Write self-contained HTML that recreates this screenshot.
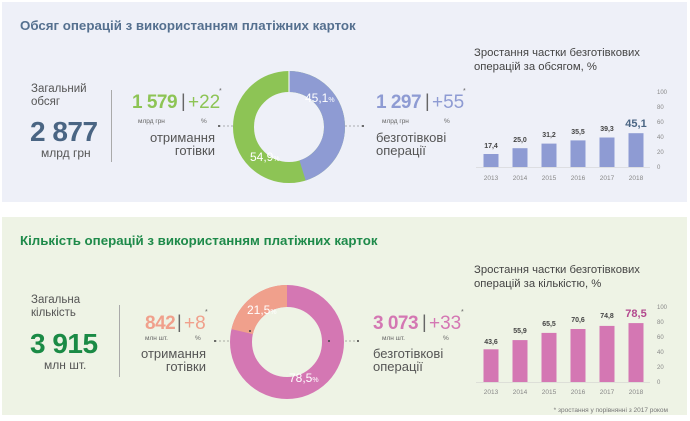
<!DOCTYPE html>
<html><head><meta charset="utf-8"><style>
body{margin:0;background:#fff;}
svg{display:block;font-family:"Liberation Sans",sans-serif;}
</style></head><body>
<svg width="690" height="421" viewBox="0 0 690 421">
<rect x="2" y="2" width="685" height="200" fill="#eef0f8"/>
<rect x="2" y="217" width="685" height="198" fill="#eef3e5"/>
<!-- TOP -->
<text x="20" y="30" font-size="13.3" fill="#55708f" font-weight="bold">Обсяг операцій з використанням платіжних карток</text>
<text x="31" y="92" font-size="11.5" fill="#555">Загальний</text>
<text x="31" y="105" font-size="11.5" fill="#555">обсяг</text>
<text x="30" y="141" font-size="28" font-weight="bold" fill="#4a6583" letter-spacing="-0.5">2 877</text>
<text x="41" y="157" font-size="12" fill="#555">млрд грн</text>
<line x1="111.5" y1="90" x2="111.5" y2="162" stroke="#aaa" stroke-width="1"/>
<text x="132" y="108" font-size="19" fill="#8dc455" font-weight="bold" letter-spacing="-0.5">1 579</text>
<text x="181" y="107" font-size="18" fill="#666">|</text>
<text x="188" y="108" font-size="19" fill="#8dc455">+22</text>
<text x="219" y="93" font-size="7" fill="#666">*</text>
<text x="138" y="123" font-size="6.5" fill="#666">млрд грн</text>
<text x="201" y="123" font-size="6.5" fill="#666">%</text>
<text x="215" y="142" font-size="13" fill="#555" text-anchor="end">отримання</text>
<text x="215" y="155" font-size="13" fill="#555" text-anchor="end">готівки</text>
<line x1="219" y1="126" x2="249" y2="126" stroke="#666" stroke-width="0.6" stroke-dasharray="2,2"/>
<circle cx="219" cy="126" r="1" fill="#444"/><circle cx="249" cy="126" r="1" fill="#444"/>
<line x1="333" y1="126" x2="363" y2="126" stroke="#666" stroke-width="0.6" stroke-dasharray="2,2"/>
<circle cx="333" cy="126" r="1" fill="#444"/><circle cx="363" cy="126" r="1" fill="#444"/>
<circle cx="289" cy="127" r="45.5" fill="none" stroke="#8dc455" stroke-width="21"/>
<circle cx="289" cy="127" r="45.5" fill="none" stroke="#8e9bd3" stroke-width="21" stroke-dasharray="128.9 300" transform="rotate(-90 289 127)"/>
<line x1="289" y1="71" x2="289" y2="92" stroke="#fff" stroke-width="1"/>
<text x="305" y="102" font-size="12" fill="#fff">45,1<tspan font-size="7">%</tspan></text>
<text x="250" y="161" font-size="12" fill="#fff">54,9<tspan font-size="7">%</tspan></text>
<text x="376" y="108" font-size="19" fill="#8e9bd3" font-weight="bold" letter-spacing="-0.5">1 297</text>
<text x="425" y="107" font-size="18" fill="#666">|</text>
<text x="432" y="108" font-size="19" fill="#8e9bd3">+55</text>
<text x="463" y="93" font-size="7" fill="#666">*</text>
<text x="382" y="123" font-size="6.5" fill="#666">млрд грн</text>
<text x="444" y="123" font-size="6.5" fill="#666">%</text>
<text x="376" y="142" font-size="13" fill="#555">безготівкові</text>
<text x="376" y="155" font-size="13" fill="#555">операції</text>
<text x="474" y="56" font-size="11.3" fill="#444">Зростання частки безготівкових</text>
<text x="474" y="70" font-size="11.3" fill="#444">операцій за обсягом, %</text>
<g font-size="6" fill="#888">
<text x="657" y="94">100</text><text x="657" y="109">80</text><text x="657" y="124">60</text><text x="657" y="139">40</text><text x="657" y="154">20</text><text x="657" y="169">0</text>
</g>
<line x1="476" y1="167.5" x2="650" y2="167.5" stroke="#ccc" stroke-width="0.6"/>
<g fill="#8e9bd3">
<rect x="483.5" y="154" width="15" height="13"/>
<rect x="512.5" y="148.2" width="15" height="18.8"/>
<rect x="541.5" y="143.6" width="15" height="23.4"/>
<rect x="570.5" y="140.4" width="15" height="26.6"/>
<rect x="599.5" y="137.5" width="15" height="29.5"/>
<rect x="628.5" y="133.2" width="15" height="33.8"/>
</g>
<g font-size="7" fill="#444" text-anchor="middle" font-weight="bold">
<text x="491" y="148">17,4</text><text x="520" y="142">25,0</text><text x="549" y="137">31,2</text><text x="578" y="134">35,5</text><text x="607" y="131">39,3</text>
<text x="636" y="127" font-size="11" fill="#4a6583">45,1</text>
</g>
<g font-size="6.5" fill="#888" text-anchor="middle">
<text x="491" y="180">2013</text><text x="520" y="180">2014</text><text x="549" y="180">2015</text><text x="578" y="180">2016</text><text x="607" y="180">2017</text><text x="636" y="180">2018</text>
</g>
<!-- BOTTOM -->
<text x="20" y="245" font-size="13.3" fill="#1e8a4a" font-weight="bold">Кількість операцій з використанням платіжних карток</text>
<text x="31" y="303" font-size="11.5" fill="#555">Загальна</text>
<text x="31" y="316" font-size="11.5" fill="#555">кількість</text>
<text x="30" y="353" font-size="28" font-weight="bold" fill="#1a8a45" letter-spacing="-0.5">3 915</text>
<text x="44" y="369" font-size="12" fill="#555">млн шт.</text>
<line x1="119.5" y1="305" x2="119.5" y2="377" stroke="#aaa" stroke-width="1"/>
<text x="145" y="329" font-size="19" fill="#f0a08c" font-weight="bold" letter-spacing="-0.5">842</text>
<text x="177" y="328" font-size="18" fill="#666">|</text>
<text x="184" y="329" font-size="19" fill="#f0a08c">+8</text>
<text x="205" y="314" font-size="7" fill="#666">*</text>
<text x="145" y="340" font-size="6.5" fill="#666">млн шт.</text>
<text x="195" y="340" font-size="6.5" fill="#666">%</text>
<text x="206" y="358" font-size="13" fill="#555" text-anchor="end">отримання</text>
<text x="206" y="371" font-size="13" fill="#555" text-anchor="end">готівки</text>
<line x1="215" y1="341" x2="250" y2="341" stroke="#666" stroke-width="0.6" stroke-dasharray="2,2"/>
<circle cx="215" cy="341" r="1" fill="#444"/>
<line x1="329" y1="341" x2="358" y2="341" stroke="#666" stroke-width="0.6" stroke-dasharray="2,2"/>
<circle cx="358" cy="341" r="1" fill="#444"/>
<circle cx="287" cy="342" r="46" fill="none" stroke="#d477b3" stroke-width="22"/>
<circle cx="287" cy="342" r="46" fill="none" stroke="#f0a08c" stroke-width="22" stroke-dasharray="62.1 300" stroke-dashoffset="-226.9" transform="rotate(-90 287 342)"/>
<circle cx="250" cy="331" r="1" fill="#444"/><circle cx="329" cy="341" r="1" fill="#444"/>
<text x="247" y="314" font-size="12" fill="#fff">21,5<tspan font-size="7">%</tspan></text>
<text x="289" y="382" font-size="12" fill="#fff">78,5<tspan font-size="7">%</tspan></text>
<text x="373" y="329" font-size="19" fill="#d477b3" font-weight="bold" letter-spacing="-0.5">3 073</text>
<text x="422" y="328" font-size="18" fill="#666">|</text>
<text x="429" y="329" font-size="19" fill="#d477b3">+33</text>
<text x="461" y="314" font-size="7" fill="#666">*</text>
<text x="382" y="340" font-size="6.5" fill="#666">млн шт.</text>
<text x="443" y="340" font-size="6.5" fill="#666">%</text>
<text x="373" y="358" font-size="13" fill="#555">безготівкові</text>
<text x="373" y="371" font-size="13" fill="#555">операції</text>
<text x="474" y="273" font-size="11.3" fill="#444">Зростання частки безготівкових</text>
<text x="474" y="287" font-size="11.3" fill="#444">операцій за кількістю, %</text>
<g font-size="6" fill="#888">
<text x="657" y="309">100</text><text x="657" y="324">80</text><text x="657" y="339">60</text><text x="657" y="354">40</text><text x="657" y="369">20</text><text x="657" y="384">0</text>
</g>
<line x1="476" y1="382.5" x2="650" y2="382.5" stroke="#ccc" stroke-width="0.6"/>
<g fill="#d477b3">
<rect x="483.5" y="349.3" width="15" height="32.7"/>
<rect x="512.5" y="340.1" width="15" height="41.9"/>
<rect x="541.5" y="332.9" width="15" height="49.1"/>
<rect x="570.5" y="329" width="15" height="53"/>
<rect x="599.5" y="325.9" width="15" height="56.1"/>
<rect x="628.5" y="323.1" width="15" height="58.9"/>
</g>
<g font-size="7" fill="#444" text-anchor="middle" font-weight="bold">
<text x="491" y="344">43,6</text><text x="520" y="333">55,9</text><text x="549" y="326">65,5</text><text x="578" y="322">70,6</text><text x="607" y="318">74,8</text>
<text x="636" y="317" font-size="11" fill="#b3488e">78,5</text>
</g>
<g font-size="6.5" fill="#888" text-anchor="middle">
<text x="491" y="394">2013</text><text x="520" y="394">2014</text><text x="549" y="394">2015</text><text x="578" y="394">2016</text><text x="607" y="394">2017</text><text x="636" y="394">2018</text>
</g>
<text x="668" y="412" font-size="6.5" fill="#777" text-anchor="end">* зростання у порівнянні з 2017 роком</text>
</svg>
</body></html>
